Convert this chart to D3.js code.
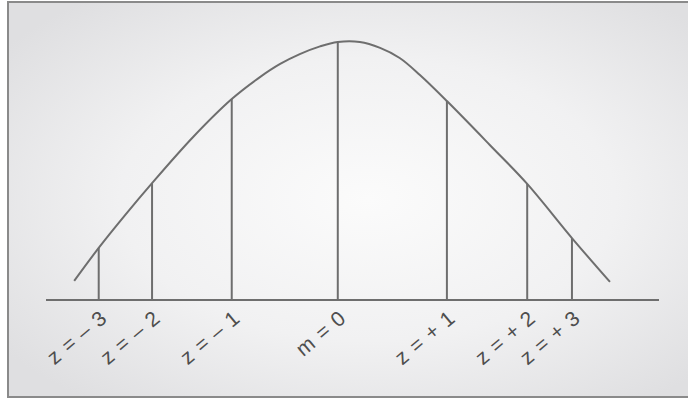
<!DOCTYPE html>
<html><head><meta charset="utf-8">
<script src="https://cdn.jsdelivr.net/npm/d3@7"></script>
<style>html,body{margin:0;padding:0;background:#fff;}svg{display:block;}</style>
</head><body>
<script>
// Curve points (abstract units: x 0-100 along baseline, y 0-100 height)
const curveX = [4.6, 8.6, 12.9, 17.3, 24.0, 30.3, 34.9, 38.2, 41.4, 44.7, 47.6, 51.2, 54.5, 57.7, 61.0, 65.4, 72.4, 78.5, 85.8, 92.0];
const curveY = [7.4, 20.2, 32.9, 45.3, 63.2, 77.9, 86.4, 91.5, 95.3, 98.3, 100, 100, 97.7, 93.8, 87.2, 77.1, 60.1, 45.0, 24.0, 7.0];
// Marker lines
const markerLabels = ["z = – 3", "z = – 2", "z = – 1", "m = 0", "z = + 1", "z = + 2", "z = + 3"];
const markerX = [8.6, 17.3, 30.3, 47.6, 65.4, 78.5, 85.8];
const markerY = [20.2, 45.3, 77.9, 100, 77.1, 45.0, 24.0];

const W = 688, H = 400;
const svg = d3.select("body").append("svg").attr("width", W).attr("height", H);
const defs = svg.append("defs");
const rg = defs.append("radialGradient").attr("id", "bg")
  .attr("cx", "52%").attr("cy", "50%").attr("r", "65%");
rg.append("stop").attr("offset", "0%").attr("stop-color", "#fbfbfb");
rg.append("stop").attr("offset", "55%").attr("stop-color", "#f1f1f2");
rg.append("stop").attr("offset", "100%").attr("stop-color", "#dfdfe1");

svg.append("rect").attr("x", 8).attr("y", 2).attr("width", 692).attr("height", 395)
  .attr("fill", "url(#bg)").attr("stroke", "#8a8a8a").attr("stroke-width", 2);

const x = d3.scaleLinear().domain([0, 100]).range([46, 659]);
const y = d3.scaleLinear().domain([0, 100]).range([300, 42]);
const col = "#6e6e6e";

// baseline
svg.append("line").attr("x1", x(0)).attr("x2", x(100)).attr("y1", y(0)).attr("y2", y(0))
  .attr("stroke", col).attr("stroke-width", 2);

// markers
svg.selectAll("line.m").data(markerX).enter().append("line").attr("class", "m")
  .attr("x1", d => x(d)).attr("x2", d => x(d))
  .attr("y1", y(0)).attr("y2", (d, i) => y(markerY[i]))
  .attr("stroke", col).attr("stroke-width", 2);

// curve
const pts = curveX.map((d, i) => [d, curveY[i]]);
svg.append("path").datum(pts)
  .attr("d", d3.line().x(d => x(d[0])).y(d => y(d[1])).curve(d3.curveCatmullRom.alpha(0.5)))
  .attr("fill", "none").attr("stroke", col).attr("stroke-width", 2);

// labels
svg.selectAll("text.lab").data(markerLabels).enter().append("text").attr("class", "lab")
  .attr("transform", (d, i) => `translate(${x(markerX[i]) + 10},${320}) rotate(-40)`)
  .attr("text-anchor", "end")
  .style("font-family", "'Liberation Sans', Arial, sans-serif")
  .style("font-size", "21px").style("letter-spacing", "1px")
  .attr("fill", "#4e4e4e")
  .text(d => d);
</script>
</body></html>
